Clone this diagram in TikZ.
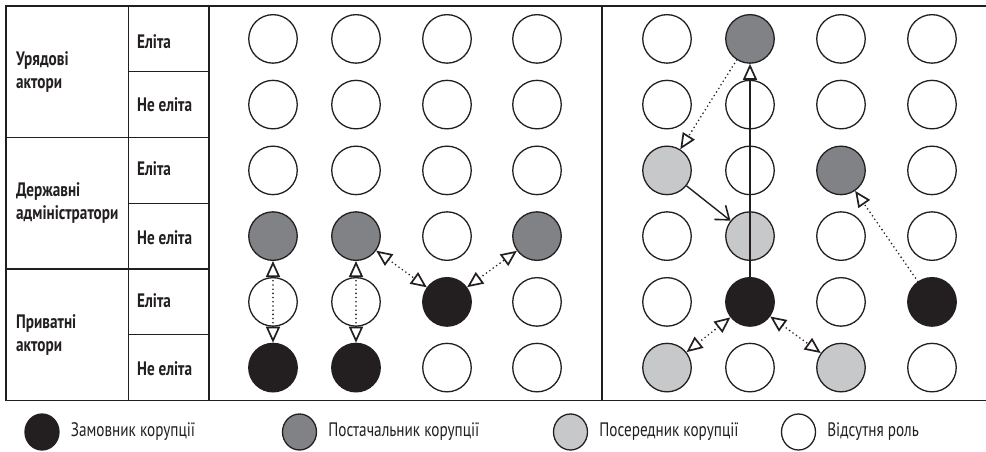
\documentclass[tikz,border=0pt]{standalone}
\usepackage{fontspec}
\setmainfont{PT Sans}[FakeStretch=0.78]
\usepackage{tikz}
\usetikzlibrary{arrows.meta,shapes.geometric,positioning}
\definecolor{inkblack}{HTML}{231F20}
\definecolor{roleclient}{HTML}{231F20}
\definecolor{rolesupplier}{HTML}{808285}
\definecolor{rolebroker}{HTML}{C7C8CA}

\begin{document}
\begin{tikzpicture}[x=1pt,y=-1pt,inkblack,
                    actor/.style={circle,draw=inkblack,line width=1.3pt,fill=white,minimum size=48.5pt,inner sep=0pt},
                    client/.style={actor,fill=roleclient},
                    supplier/.style={actor,fill=rolesupplier},
                    broker/.style={actor,fill=rolebroker},
                    legdot/.style={ellipse,draw=inkblack,line width=1.3pt,minimum width=34pt,minimum height=36pt,inner sep=0pt},
                    legtext/.style={inner sep=0pt,font=\fontsize{19.5}{22}\selectfont,right=11pt of #1},
                    grouplbl/.style={anchor=west,align=left,inner sep=0pt,font=\fontsize{19.5}{23}\selectfont\bfseries},
                    rowlbl/.style={anchor=west,inner sep=0pt,font=\fontsize{19.5}{22}\selectfont\bfseries},
                    dotline/.style={line width=1.8pt,line cap=round,dash pattern=on 0pt off 4.2pt},
                    tip/.tip={Triangle[open,length=16pt,width=14pt,line width=1.7pt]},
                    oneway/.style={dotline,-tip},
                    twoway/.style={dotline,tip-tip},
                    solidway/.style={line width=1.3pt,-tip},
                    barbway/.style={line width=1.4pt,-{Straight Barb[length=12pt,width=18pt,line width=1.6pt]}}]

  \useasboundingbox (0,0) rectangle (986,452);

  % table
  \draw[line width=1.5pt] (990,6) -- (6,6) -- (6,400.5) -- (990,400.5);
  \draw[line width=1.5pt] (128.5,6) -- (128.5,400.5)
                          (209,6) -- (209,400.5)
                          (602,6) -- (602,400.5);
  \draw[line width=1.5pt] (6,137.5) -- (209,137.5)
                          (6,269) -- (209,269);
  \draw[line width=1.3pt] (128.5,71.75) -- (209,71.75)
                          (128.5,203.25) -- (209,203.25)
                          (128.5,334.75) -- (209,334.75);

  \node[grouplbl] at (16,72)  (gov)  {Урядові\\актори};
  \node[grouplbl] at (16,203) (adm)  {Державні\\адміністратори};
  \node[grouplbl] at (16,335) (priv) {Приватні\\актори};

  \node[rowlbl] at (137,41.5)  (gov-e)   {Еліта};
  \node[rowlbl] at (137,104.6) (gov-n)   {Не еліта};
  \node[rowlbl] at (137,169)   (adm-e)   {Еліта};
  \node[rowlbl] at (137,237.5) (adm-n)   {Не еліта};
  \node[rowlbl] at (137,301)   (priv-e)  {Еліта};
  \node[rowlbl] at (137,368.6) (priv-n)  {Не еліта};

  % left panel
  \node[actor]    at (273,38.9)  (L11) {};
  \node[actor]    at (356,38.9)  (L12) {};
  \node[actor]    at (447,38.9)  (L13) {};
  \node[actor]    at (537,38.9)  (L14) {};
  \node[actor]    at (273,104.6) (L21) {};
  \node[actor]    at (356,104.6) (L22) {};
  \node[actor]    at (447,104.6) (L23) {};
  \node[actor]    at (537,104.6) (L24) {};
  \node[actor]    at (273,170.4) (L31) {};
  \node[actor]    at (356,170.4) (L32) {};
  \node[actor]    at (447,170.4) (L33) {};
  \node[actor]    at (537,170.4) (L34) {};
  \node[supplier] at (273,236.1) (L41) {};
  \node[supplier] at (356,236.1) (L42) {};
  \node[actor]    at (447,236.1) (L43) {};
  \node[supplier] at (537,236.1) (L44) {};
  \node[actor]    at (273,301.9) (L51) {};
  \node[actor]    at (356,301.9) (L52) {};
  \node[client]   at (447,301.9) (L53) {};
  \node[actor]    at (537,301.9) (L54) {};
  \node[client]   at (273,367.6) (L61) {};
  \node[client]   at (356,367.6) (L62) {};
  \node[actor]    at (447,367.6) (L63) {};
  \node[actor]    at (537,367.6) (L64) {};

  % right panel
  \node[actor]    at (667,38.9)  (R11) {};
  \node[supplier] at (750,38.9)  (R12) {};
  \node[actor]    at (841,38.9)  (R13) {};
  \node[actor]    at (932,38.9)  (R14) {};
  \node[actor]    at (667,104.6) (R21) {};
  \node[actor]    at (750,104.6) (R22) {};
  \node[actor]    at (841,104.6) (R23) {};
  \node[actor]    at (932,104.6) (R24) {};
  \node[broker]   at (667,170.4) (R31) {};
  \node[actor]    at (750,170.4) (R32) {};
  \node[supplier] at (841,170.4) (R33) {};
  \node[actor]    at (932,170.4) (R34) {};
  \node[actor]    at (667,236.1) (R41) {};
  \node[broker]   at (750,236.1) (R42) {};
  \node[actor]    at (841,236.1) (R43) {};
  \node[actor]    at (932,236.1) (R44) {};
  \node[actor]    at (667,301.9) (R51) {};
  \node[client]   at (750,301.9) (R52) {};
  \node[actor]    at (841,301.9) (R53) {};
  \node[client]   at (932,301.9) (R54) {};
  \node[broker]   at (667,367.6) (R61) {};
  \node[actor]    at (750,367.6) (R62) {};
  \node[broker]   at (841,367.6) (R63) {};
  \node[actor]    at (932,367.6) (R64) {};

  \path (L41) edge[twoway] (L61)
        (L42) edge[twoway] (L62)
              edge[twoway] (L53)
        (L53) edge[twoway] (L44);

  \path (R52) edge[solidway] (R12)
              edge[twoway] (R61)
              edge[twoway] (R63)
        (R12) edge[oneway] (R31)
        (R31) edge[barbway] (R42)
        (R54) edge[oneway] (R33);

  % legend
  \node[legdot,fill=roleclient]   at (42,432)    (lg1) {};
  \node[legdot,fill=rolesupplier] at (299.5,432) (lg2) {};
  \node[legdot,fill=rolebroker]   at (570.5,432) (lg3) {};
  \node[legdot,fill=white]        at (798.5,432) (lg4) {};
  \node[legtext=lg1] (lt1) {Замовник корупції};
  \node[legtext=lg2] (lt2) {Постачальник корупції};
  \node[legtext=lg3] (lt3) {Посередник корупції};
  \node[legtext=lg4] (lt4) {Відсутня роль};

\end{tikzpicture}
\end{document}
